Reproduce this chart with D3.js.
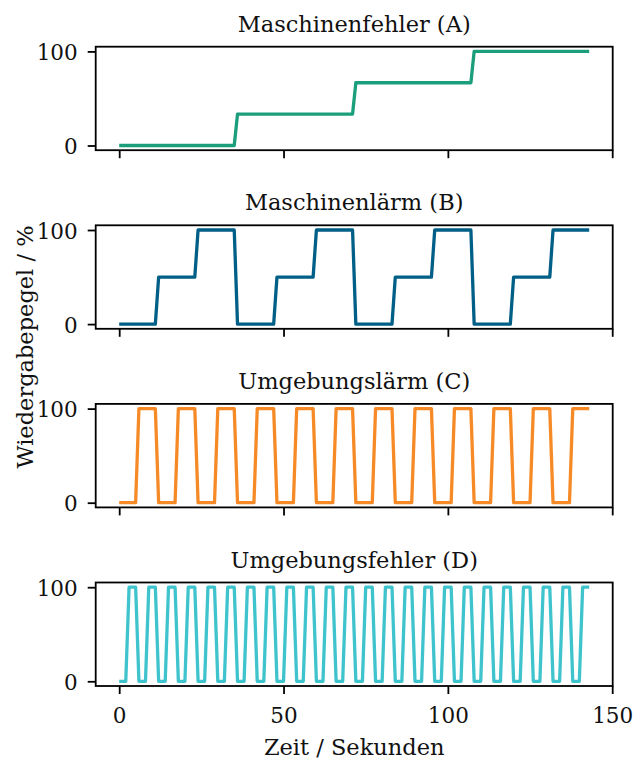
<!DOCTYPE html>
<html>
<head>
<meta charset="utf-8">
<script src="https://cdn.jsdelivr.net/npm/d3@7"></script>
<style>
  body { margin: 0; background: #fff; }
  svg text { font-family: "DejaVu Serif", serif; fill: #111; }
</style>
</head>
<body>
<div id="chart"></div>
<script>
// Zeitachse in Sekunden (ein Wert pro Sekunde)
const seconds = d3.range(0, 144);

const stufenA = [[0, 36], [33.3, 36], [66.7, 36], [100, 36]];
const stufenB = [
  [0, 12], [50, 12], [100, 12],
  [0, 12], [50, 12], [100, 12],
  [0, 12], [50, 12], [100, 12],
  [0, 12], [50, 12], [100, 12]
];
const stufenC = [
  [0, 6], [100, 6], [0, 6], [100, 6], [0, 6], [100, 6],
  [0, 6], [100, 6], [0, 6], [100, 6], [0, 6], [100, 6],
  [0, 6], [100, 6], [0, 6], [100, 6], [0, 6], [100, 6],
  [0, 6], [100, 6], [0, 6], [100, 6], [0, 6], [100, 6]
];
const stufenD = [
  [0, 3], [100, 3], [0, 3], [100, 3], [0, 3], [100, 3], [0, 3], [100, 3],
  [0, 3], [100, 3], [0, 3], [100, 3], [0, 3], [100, 3], [0, 3], [100, 3],
  [0, 3], [100, 3], [0, 3], [100, 3], [0, 3], [100, 3], [0, 3], [100, 3],
  [0, 3], [100, 3], [0, 3], [100, 3], [0, 3], [100, 3], [0, 3], [100, 3],
  [0, 3], [100, 3], [0, 3], [100, 3], [0, 3], [100, 3], [0, 3], [100, 3],
  [0, 3], [100, 3], [0, 3], [100, 3], [0, 3], [100, 3], [0, 3], [100, 3]
];

const titles = ["Maschinenfehler (A)", "Maschinenlärm (B)", "Umgebungslärm (C)", "Umgebungsfehler (D)"];
const colors = ["#1b9e7c", "#005f86", "#f68a26", "#3fc3cd"];
const xTicks = [0, 50, 100, 150];
const yTicks = [0, 100];

function expand(stufen) {
  const vals = [];
  stufen.forEach(([v, n]) => { for (let i = 0; i < n; i++) vals.push(v); });
  return seconds.map((t, i) => ({ t, v: vals[i] }));
}

const panels = [stufenA, stufenB, stufenC, stufenD].map(expand);

const width = 636, height = 764;
const left = 95.7, right = 612.7;
const panelH = 103.5, firstTop = 46.7, step = 178.6;
const fs = "22.5px", tickFs = "21.5px";

const svg = d3.select("#chart").append("svg")
  .attr("width", width)
  .attr("height", height);

const x = d3.scaleLinear().domain([-7.15, 150.15]).range([left, right]);

panels.forEach((data, i) => {
  const top = firstTop + i * step;
  const y = d3.scaleLinear().domain([-5, 105]).range([top + panelH, top]);
  const g = svg.append("g");

  g.append("path")
    .datum(data)
    .attr("fill", "none")
    .attr("stroke", colors[i])
    .attr("stroke-width", 3.3)
    .attr("stroke-linejoin", "round")
    .attr("d", d3.line().x((d) => x(d.t)).y((d) => y(d.v)));

  g.append("rect")
    .attr("x", left).attr("y", top)
    .attr("width", right - left).attr("height", panelH)
    .attr("fill", "none").attr("stroke", "#000").attr("stroke-width", 1.8);

  const ya = g.append("g")
    .attr("transform", `translate(${left},0)`)
    .call(d3.axisLeft(y).tickValues(yTicks).tickSize(8).tickPadding(10).tickFormat(d3.format("d")));
  ya.select(".domain").remove();
  ya.attr("font-family", null);
  ya.selectAll("line").attr("stroke-width", 1.8);
  ya.selectAll("text").style("font-size", tickFs).attr("dy", "0.38em").attr("fill", "#111");

  const xa = g.append("g")
    .attr("transform", `translate(0,${top + panelH})`)
    .call(d3.axisBottom(x).tickValues(xTicks).tickSize(8).tickPadding(14)
      .tickFormat(i === 3 ? d3.format("d") : () => ""));
  xa.select(".domain").remove();
  xa.attr("font-family", null);
  xa.selectAll("line").attr("stroke-width", 1.8);
  xa.selectAll("text").style("font-size", tickFs).attr("fill", "#111");

  g.append("text")
    .attr("x", (left + right) / 2)
    .attr("y", top - 15)
    .attr("text-anchor", "middle")
    .style("font-size", fs)
    .text(titles[i]);
});

svg.append("text")
  .attr("x", (left + right) / 2)
  .attr("y", 755)
  .attr("text-anchor", "middle")
  .style("font-size", fs)
  .text("Zeit / Sekunden");

svg.append("text")
  .attr("transform", `translate(33,347) rotate(-90)`)
  .attr("text-anchor", "middle")
  .style("font-size", fs)
  .text("Wiedergabepegel / %");
</script>
</body>
</html>
